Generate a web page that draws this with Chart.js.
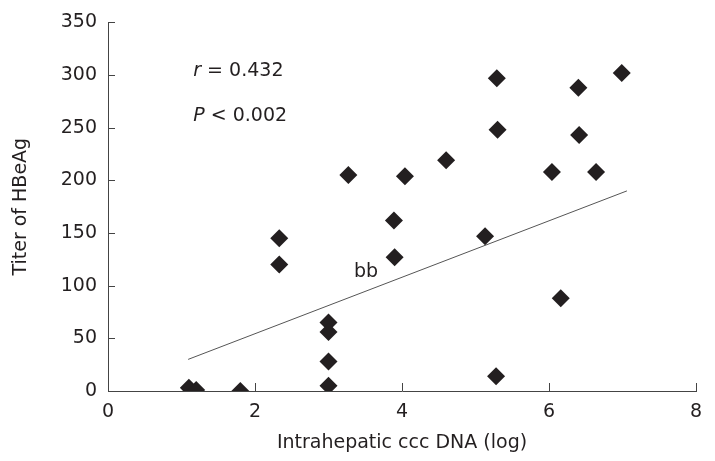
<!DOCTYPE html>
<html>
<head>
<meta charset="utf-8">
<script src="https://cdn.jsdelivr.net/npm/chart.js@4.4.1/dist/chart.umd.min.js"></script>
<style>
  html, body { margin: 0; padding: 0; background: #fff; }
  #wrap { width: 715px; height: 461px; }
</style>
</head>
<body>
<div id="wrap"><canvas id="scatter" width="715" height="461"></canvas></div>
<script>
// values
const cccDna = [1.1, 1.2, 1.8, 2.33, 2.33, 3.0, 3.0, 3.0, 3.0, 3.27, 3.89, 3.9, 4.04, 4.6,
                5.13, 5.28, 5.29, 5.3, 6.04, 6.16, 6.4, 6.41, 6.64, 6.99];
const hbeag  = [3, 1, 0, 145, 120, 65, 56, 28, 5, 205, 162, 127, 204, 219,
                147, 14, 297, 248, 208, 88, 288, 243, 208, 302];
const fitX = [1.09, 7.06];
const fitY = [30, 190];
const xTicks = [0, 2, 4, 6, 8];
const yTicks = [0, 50, 100, 150, 200, 250, 300, 350];

const ink = '#231f20';
const font = 'DejaVu Sans, Verdana, sans-serif';

// text put on the plot, anchored in data units
const notes = [
  { x: 1.16, y: 304, it: 'r', rest: ' = 0.432', align: 'left' },
  { x: 1.16, y: 261, it: 'P', rest: ' < 0.002', align: 'left' },
  { x: 3.51, y: 113, it: '', rest: 'bb', align: 'center' }
];

const pts = cccDna.map(function (x, i) { return { x: x, y: hbeag[i] }; });
const fit = fitX.map(function (x, i) { return { x: x, y: fitY[i] }; });

const extras = {
  id: 'extras',
  afterDraw: function (chart) {
    const c = chart.ctx, xs = chart.scales.x, ys = chart.scales.y, a = chart.chartArea;
    c.save();
    c.strokeStyle = '#444';
    c.lineWidth = 1;
    c.beginPath();
    yTicks.forEach(function (v) {
      const py = Math.round(ys.getPixelForValue(v)) + 0.5;
      c.moveTo(a.left, py); c.lineTo(a.left + 7, py);
    });
    xTicks.forEach(function (v) {
      if (v === 0) return;
      const px = Math.round(xs.getPixelForValue(v)) + 0.5;
      c.moveTo(px, a.bottom); c.lineTo(px, a.bottom - 8);
    });
    c.stroke();

    c.fillStyle = ink;
    c.textBaseline = 'middle';
    notes.forEach(function (n) {
      let px = xs.getPixelForValue(n.x);
      const py = ys.getPixelForValue(n.y);
      c.font = 'italic 19px ' + font;
      const w1 = c.measureText(n.it).width;
      c.font = '19px ' + font;
      const w2 = c.measureText(n.rest).width;
      if (n.align === 'center') px -= (w1 + w2) / 2;
      c.textAlign = 'left';
      c.font = 'italic 19px ' + font;
      c.fillText(n.it, px, py);
      c.font = '19px ' + font;
      c.fillText(n.rest, px + w1, py);
    });
    c.restore();
  }
};

const ctx = document.getElementById('scatter');
const chart = new Chart(ctx, {
  type: 'scatter',
  data: {
    datasets: [{
      data: pts,
      pointStyle: 'rectRot',
      pointRadius: 9,
      pointHoverRadius: 9,
      borderWidth: 0,
      backgroundColor: ink,
      borderColor: ink
    }, {
      type: 'line',
      data: fit,
      borderColor: '#555',
      borderWidth: 1,
      pointRadius: 0,
      fill: false
    }]
  },
  options: {
    responsive: false,
    animation: false,
    layout: { padding: { top: 18, right: 19, left: 0, bottom: 0 } },
    plugins: { legend: { display: false }, tooltip: { enabled: false } },
    scales: {
      x: {
        type: 'linear', min: 0, max: 8,
        afterBuildTicks: function (s) { s.ticks = xTicks.map(function (v) { return { value: v }; }); },
        afterFit: function (s) { s.height = 70; },
        grid: { display: false, drawTicks: false },
        border: { display: true, color: '#444', width: 1 },
        ticks: { color: ink, font: { family: font, size: 19 }, padding: 10 },
        title: { display: true, text: 'Intrahepatic ccc DNA (log)', color: ink,
                 font: { family: font, size: 19 }, padding: { top: 0, bottom: 7 } }
      },
      y: {
        type: 'linear', min: 0, max: 350,
        afterBuildTicks: function (s) { s.ticks = yTicks.map(function (v) { return { value: v }; }); },
        afterFit: function (s) { s.width = 108; },
        grid: { display: false, drawTicks: false },
        border: { display: true, color: '#444', width: 1 },
        ticks: { color: ink, font: { family: font, size: 19 }, padding: 11 },
        title: { display: true, text: 'Titer of HBeAg', color: ink,
                 font: { family: font, size: 19 }, padding: { top: 10, bottom: 0 } }
      }
    }
  },
  plugins: [extras]
});
</script>
</body>
</html>
